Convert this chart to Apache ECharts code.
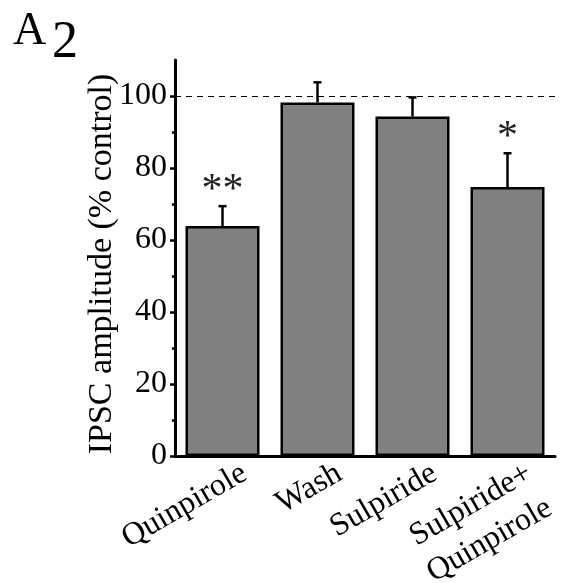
<!DOCTYPE html>
<html>
<head>
<meta charset="utf-8">
<script src="https://cdn.jsdelivr.net/npm/echarts@6/dist/echarts.min.js"></script>
<style>
html,body{margin:0;padding:0;background:#fff;}
#main{width:561px;height:583px;}
</style>
</head>
<body>
<div id="main"></div>
<script>
var categories = ['Quinpirole', 'Wash', 'Sulpiride', 'Sulpiride+\nQuinpirole'];
var means = [63.9, 98.2, 94.3, 74.7];
var sems = [5.5, 5.6, 5.3, 9.4];
var stars = ['**', '', '', '*'];
var yTicks = [0, 20, 40, 60, 80, 100];
var yMinorTicks = [10, 30, 50, 70, 90];
var refLine = 100;

var FONT = '"Times New Roman", "Liberation Serif", Times, serif';

var chart = echarts.init(document.getElementById('main'));

var errData = [];
means.forEach(function(m, i){
	errData.push([i, m, m + sems[i], stars[i]]);
});

var option = {
	backgroundColor: '#fff',
	animation: false,
	graphic: [
		{type: 'text', left: 13, top: 9, style: {text: 'A', font: '46px ' + FONT, fill: '#000'}},
		{type: 'text', left: 52, top: 17, style: {text: '2', font: '52px ' + FONT, fill: '#000'}}
	],
	grid: {left: 175, right: 6, top: 60, bottom: 127, containLabel: false, outerBoundsMode: 'none'},
	xAxis: {
		type: 'category',
		data: categories,
		boundaryGap: true,
		axisLine: {lineStyle: {color: '#000', width: 3}},
		axisTick: {alignWithLabel: true, length: 5, lineStyle: {color: '#000', width: 2.5}},
		axisLabel: {
			interval: 0,
			rotate: 30,
			margin: -23,
			align: 'right',
			verticalAlign: 'top',
			padding: [24, 0, 0, 0],
			lineHeight: 40,
			fontFamily: FONT,
			fontSize: 32,
			color: '#000'
		}
	},
	yAxis: [
		{
			type: 'value',
			position: 'left',
			min: 0,
			max: 110,
			interval: 10,
			name: 'IPSC amplitude (% control)',
			nameLocation: 'middle',
			nameGap: 56,
			nameMoveOverlap: false,
			nameTextStyle: {fontFamily: FONT, fontSize: 34, color: '#000', padding: [0, 12, 0, 0]},
			splitLine: {show: false},
			axisLine: {show: true, lineStyle: {color: '#000', width: 3}},
			axisTick: {show: true, customValues: yTicks, length: 5, lineStyle: {color: '#000', width: 2.5}},
			axisLabel: {customValues: yTicks, margin: 8, fontFamily: FONT, fontSize: 32, color: '#000'}
		},
		{
			type: 'value',
			position: 'left',
			min: 0,
			max: 110,
			interval: 10,
			splitLine: {show: false},
			axisLine: {show: false},
			axisTick: {show: true, customValues: yMinorTicks, length: 3, lineStyle: {color: '#000', width: 2.5}},
			axisLabel: {show: false}
		}
	],
	series: [
		{
			type: 'bar',
			data: means,
			barWidth: 74,
			itemStyle: {color: '#808080', borderColor: '#000', borderWidth: 2.5},
			markLine: {
				silent: true,
				symbol: 'none',
				label: {show: false},
				lineStyle: {color: '#000', width: 1.2, type: [6, 5]},
				data: [{yAxis: refLine}]
			}
		},
		{
			type: 'custom',
			data: errData,
			z: 5,
			renderItem: function(params, api){
				var base = api.coord([api.value(0), api.value(1)]);
				var top = api.coord([api.value(0), api.value(2)]);
				var star = stars[params.dataIndex];
				var children = [
					{type: 'line', shape: {x1: base[0], y1: base[1], x2: top[0], y2: top[1]},
						style: {stroke: '#000', lineWidth: 2.5}},
					{type: 'line', shape: {x1: top[0] - 4, y1: top[1], x2: top[0] + 4, y2: top[1]},
						style: {stroke: '#000', lineWidth: 2.5}}
				];
				if(star){
					children.push({type: 'text', style: {
						text: star, x: top[0], y: top[1] - 15,
						align: 'center', verticalAlign: 'middle',
						font: '42px ' + FONT, fill: '#222'
					}});
				}
				return {type: 'group', children: children};
			}
		}
	]
};

chart.setOption(option);
</script>
</body>
</html>
